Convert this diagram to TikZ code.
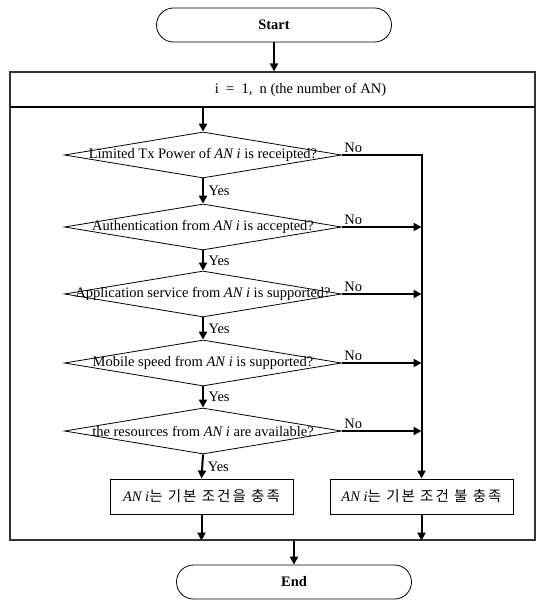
\documentclass[tikz,border=0pt]{standalone}
\usepackage{fontspec}
\setmainfont{Liberation Serif}
\newfontfamily\korfont[LetterSpace=14]{Noto Sans CJK KR}
\usetikzlibrary{positioning,shapes.geometric,arrows.meta}
\tikzset{
  >={Triangle[length=8pt,width=8pt]},
  every node/.style={font=\fontsize{14.5}{16}\selectfont},
  % --- nodes
  term/.style  = {draw, line width=0.8pt, rounded corners=17pt, minimum width=235pt,
                  minimum height=34pt, font=\fontsize{14.5}{16}\selectfont\bfseries},
  outer/.style = {draw=black!80, line width=1.2pt, minimum width=525pt,
                  minimum height=468pt, inner sep=0pt},
  head/.style  = {minimum width=525pt, minimum height=35pt, inner sep=0pt},
  ask/.style   = {diamond, draw, line width=0.8pt, minimum width=277pt,
                  minimum height=46pt, inner sep=0pt},
  res/.style   = {draw, line width=1pt, minimum width=183pt, minimum height=35pt},
  lbl/.style   = {inner sep=1.5pt},
  % --- edges
  e/.style     = {->, line width=2pt},
}
\newcommand{\an}{\textit{AN i}}
\newcommand{\kr}[1]{{\korfont #1}}

\begin{document}
\begin{tikzpicture}[x=1pt, y=-1pt]
  \useasboundingbox (0,0) rectangle (536,601);

  % ------------------------------------------------------------------ frame
  \node[term] (start) at (274,25) {Start};
  \node[outer] (frame) at (272.5,306) {};
  \node[head, label={[xshift=28pt]center:i~~=~~1,~~n (the number of AN)}] (hdr) at (272.5,89.5) {};
  \draw[line width=1.6pt] (hdr.south west) -- (hdr.south east);

  % ------------------------------------------------------------------ checks
  \node[ask, label=center:{Limited Tx Power of \an\ is receipted?}] (d1) at (203,155) {};
  \node[ask, label=center:{Authentication from \an\ is accepted?}] (d2) at (203,227) {};
  \node[ask, label=center:{Application service from \an\ is supported?}] (d3) at (203,294) {};
  \node[ask, label=center:{Mobile speed from \an\ is supported?}] (d4) at (203,363) {};
  \node[ask, label=center:{the resources from \an\ are available?}] (d5) at (203,431) {};

  % ------------------------------------------------------------------ results
  \node[res] (ok)  at (201.5,496.5) {\an\kr{는 기본 조건을 충족}};
  \node[res] (nok) at (421.5,496.5) {\an\kr{는 기본 조건 불 충족}};
  \node[term] (end) at (294,582) {End};

  % ------------------------------------------------- yes path
  \draw[e] (start) -- (start |- frame.north);
  \draw[e] (d1 |- hdr.south) -- (d1.north);
  \draw[e] (d1.south) -- node[lbl, right=3pt] {Yes} (d2.north);
  \draw[e] (d2.south) -- node[lbl, right=3pt] {Yes} (d3.north);
  \draw[e] (d3.south) -- node[lbl, right=3pt] {Yes} (d4.north);
  \draw[e] (d4.south) -- node[lbl, right=3pt] {Yes} (d5.north);
  \draw[e] (d5.south) -- node[lbl, right=3pt] {Yes} (ok.north);

  % ------------------------------------------------- no path
  \draw[e] (d1.east) node[lbl, anchor=south west] {No} -| (nok.north);
  \draw[e] (d2.east) node[lbl, anchor=south west] {No} -- (d2.east -| nok);
  \draw[e] (d3.east) node[lbl, anchor=south west] {No} -- (d3.east -| nok);
  \draw[e] (d4.east) node[lbl, anchor=south west] {No} -- (d4.east -| nok);
  \draw[e] (d5.east) node[lbl, anchor=south west] {No} -- (d5.east -| nok);

  % ------------------------------------------------- to the end
  \draw[e] (ok.south) -- (ok |- frame.south);
  \draw[e] (nok.south) -- (nok |- frame.south);
  \draw[e] (end |- frame.south) -- (end.north);
\end{tikzpicture}
\end{document}
